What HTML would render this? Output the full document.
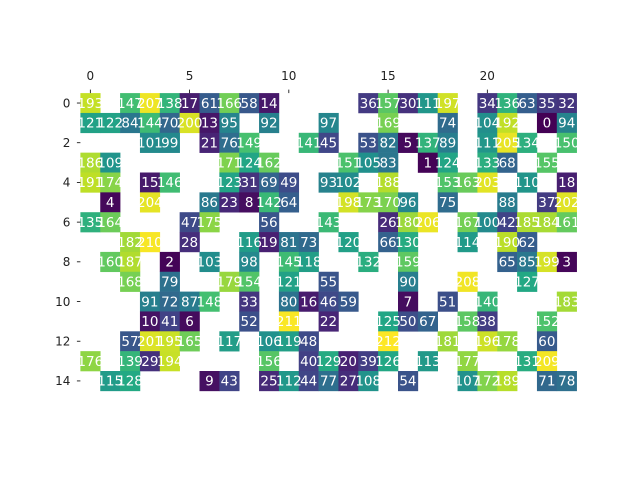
<!DOCTYPE html>
<html><head><meta charset="utf-8"><style>
html,body{margin:0;padding:0;background:#fff;}
svg{display:block;font-family:"DejaVu Sans","Liberation Sans",sans-serif;}
</style></head><body>
<svg id="chart" width="640" height="480" viewBox="0 0 640 480">
<g id="cells"></g>
<g id="xaxis"></g>
<g id="yaxis"></g>
</svg>
<script>
const N = null;
const xTickLabels = [0, 5, 10, 15, 20];
const yTickLabels = [0, 2, 4, 6, 8, 10, 12, 14];
const row0  = [193,N,147,207,138,17,61,166,58,14,N,N,N,N,36,157,30,111,197,N,34,136,63,35,32];
const row1  = [121,122,84,144,70,200,13,95,N,92,N,N,97,N,N,169,N,N,74,N,104,192,N,0,94];
const row2  = [N,N,N,101,99,N,21,76,149,N,N,141,45,N,53,82,5,137,89,N,111,205,134,N,150];
const row3  = [186,109,N,N,N,N,N,171,124,162,N,N,N,151,105,83,N,1,124,N,133,68,N,155,N];
const row4  = [191,174,N,15,146,N,N,123,31,69,49,N,93,102,N,188,N,N,153,163,203,N,110,N,18];
const row5  = [N,4,N,204,N,N,86,23,8,142,64,N,N,198,173,170,96,N,75,N,N,88,N,37,202];
const row6  = [135,164,N,N,N,47,175,N,N,56,N,N,143,N,N,26,180,206,N,167,100,42,185,184,161];
const row7  = [N,N,182,210,N,28,N,N,116,19,81,73,N,120,N,66,130,N,N,114,N,190,62,N,N];
const row8  = [N,160,187,N,2,N,103,N,98,N,145,118,N,N,132,N,159,N,N,N,N,65,85,199,3];
const row9  = [N,N,168,N,79,N,N,179,154,N,121,N,55,N,N,N,90,N,N,208,N,N,127,N,N];
const row10 = [N,N,N,91,72,87,148,N,33,N,80,16,46,59,N,N,7,N,51,N,140,N,N,N,183];
const row11 = [N,N,N,10,41,6,N,N,52,N,211,N,22,N,N,125,50,67,N,158,38,N,N,152,N];
const row12 = [N,N,57,201,195,165,N,117,N,106,119,48,N,N,N,212,N,N,181,N,196,178,N,60,N];
const row13 = [176,N,139,29,194,N,N,N,N,156,N,40,129,20,39,126,N,113,N,177,N,N,131,209,N];
const row14 = [N,115,128,N,N,N,9,43,N,25,112,44,77,27,108,N,54,N,N,107,172,189,N,71,78];
const rows = [row0,row1,row2,row3,row4,row5,row6,row7,row8,row9,row10,row11,row12,row13,row14];

const NS = "http://www.w3.org/2000/svg";
const axLeft = 80.4, axTop = 93.1, cellW = 19.85, cellH = 19.85;
const xCenter = c => axLeft + (c + 0.5) * cellW;
const yCenter = r => axTop + (r + 0.5) * cellH;
let vmin = Infinity, vmax = -Infinity;
rows.forEach(r => r.forEach(v => { if (v !== null) { vmin = Math.min(vmin, v); vmax = Math.max(vmax, v); } }));
const viridisStops = ["#440154","#482475","#414487","#355f8d","#2a788e","#21918c","#22a884","#44bf70","#7ad151","#bddf26","#fde725"];
function hexToRgb(h){return [1,3,5].map(i=>parseInt(h.substr(i,2),16));}
function viridis(v){
  let t = (v - vmin) / (vmax - vmin); t = Math.max(0, Math.min(1, t));
  const p = t * 10, i = Math.min(9, Math.floor(p)), f = p - i;
  const a = hexToRgb(viridisStops[i]), b = hexToRgb(viridisStops[i+1]);
  return "rgb(" + a.map((x,k)=>Math.round(x + (b[k]-x)*f)).join(",") + ")";
}
const gC = document.getElementById("cells");
rows.forEach((row, r) => row.forEach((v, c) => {
  if (v === null) return;
  const rect = document.createElementNS(NS, "rect");
  rect.setAttribute("x", xCenter(c) - cellW/2); rect.setAttribute("y", yCenter(r) - cellH/2);
  rect.setAttribute("width", cellW + 0.3); rect.setAttribute("height", cellH + 0.3);
  rect.setAttribute("fill", viridis(v));
  
  
  gC.appendChild(rect);
}));
rows.forEach((row, r) => row.forEach((v, c) => {
  if (v === null) return;
  const t = document.createElementNS(NS, "text");
  t.setAttribute("x", xCenter(c)); t.setAttribute("y", yCenter(r) + 4.8);
  t.setAttribute("text-anchor", "middle"); t.setAttribute("font-size", "13.5");
  t.setAttribute("fill", "#fff"); t.textContent = v;
  
  
  gC.appendChild(t);
}));
const gX = document.getElementById("xaxis");
xTickLabels.forEach(v => {
  const x = xCenter(v);
  const l = document.createElementNS(NS, "line");
  l.setAttribute("x1", x); l.setAttribute("x2", x); l.setAttribute("y1", axTop); l.setAttribute("y2", axTop - 3.5);
  l.setAttribute("stroke", "#000"); l.setAttribute("stroke-width", "0.8");
  
  
  gX.appendChild(l);
  const t = document.createElementNS(NS, "text");
  t.setAttribute("x", x); t.setAttribute("y", axTop - 13);
  t.setAttribute("text-anchor", "middle"); t.setAttribute("font-size", "12"); t.setAttribute("fill", "#222");
  t.textContent = v;
  
  
  gX.appendChild(t);
});
const gY = document.getElementById("yaxis");
yTickLabels.forEach(v => {
  const y = yCenter(v);
  const l = document.createElementNS(NS, "line");
  l.setAttribute("x1", axLeft); l.setAttribute("x2", axLeft - 3.5); l.setAttribute("y1", y); l.setAttribute("y2", y);
  l.setAttribute("stroke", "#000"); l.setAttribute("stroke-width", "0.8");
  
  
  gY.appendChild(l);
  const t = document.createElementNS(NS, "text");
  t.setAttribute("x", axLeft - 10); t.setAttribute("y", y + 4.3);
  t.setAttribute("text-anchor", "end"); t.setAttribute("font-size", "12"); t.setAttribute("fill", "#222");
  t.textContent = v;
  
  
  gY.appendChild(t);
});
</script>
</body></html>
